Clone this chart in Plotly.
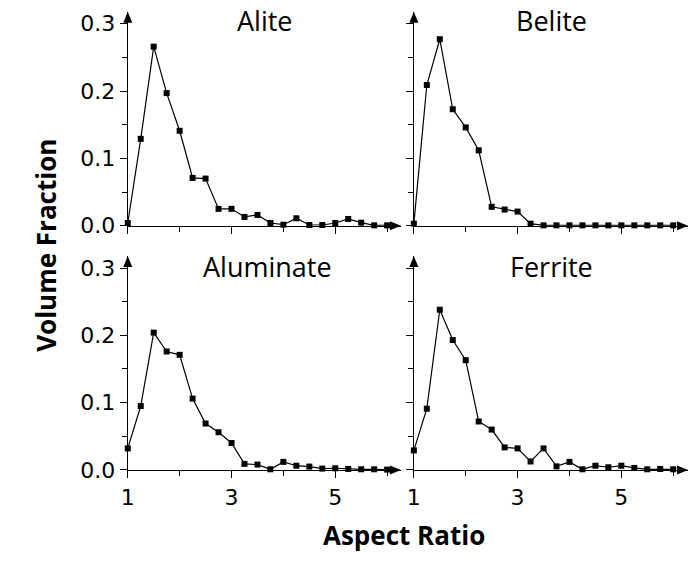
import plotly.graph_objects as go

W, H = 694, 566

aspect_ratio = [1.0, 1.25, 1.5, 1.75, 2.0, 2.25, 2.5, 2.75, 3.0, 3.25, 3.5,
                3.75, 4.0, 4.25, 4.5, 4.75, 5.0, 5.25, 5.5, 5.75, 6.0]

alite = [0.004, 0.129, 0.266, 0.197, 0.141, 0.071, 0.070, 0.025, 0.025, 0.013, 0.016,
         0.004, 0.0015, 0.011, 0.001, 0.001, 0.004, 0.010, 0.0045, 0.0005, 0.0005]
belite = [0.003, 0.209, 0.277, 0.173, 0.146, 0.112, 0.028, 0.024, 0.021, 0.003, 0.0005,
          0.0005, 0.0005, 0.0005, 0.0005, 0.0005, 0.0005, 0.0005, 0.0005, 0.0005, 0.0005]
aluminate = [0.032, 0.095, 0.204, 0.176, 0.171, 0.106, 0.069, 0.056, 0.040, 0.009, 0.008,
             0.001, 0.012, 0.0063, 0.005, 0.002, 0.0025, 0.0015, 0.001, 0.001, 0.0005]
ferrite = [0.029, 0.091, 0.238, 0.193, 0.163, 0.072, 0.060, 0.0335, 0.032, 0.0126, 0.032,
           0.0053, 0.012, 0.001, 0.0063, 0.004, 0.0063, 0.003, 0.001, 0.0015, 0.001]

titles = ["Alite", "Belite", "Aluminate", "Ferrite"]
series = [alite, belite, aluminate, ferrite]

y_ticks = [0.0, 0.1, 0.2, 0.3]
y_ticktext = ["0.0", "0.1", "0.2", "0.3"]
x_ticks = [1, 3, 5]
x_ticktext = ["1", "3", "5"]
x_minor = [2, 4, 6]

# pixel layout
px_per_x = 52.4
px_per_y = 689.0  # per 1.0
cols = [(122, 398), (411, 688)]
rows = [(231, 12), (481, 262)]  # (y of zero, y of top)

fig = go.Figure()
axis_font = dict(family="DejaVu Sans", size=22, color="black")

k = 0
for r, (y0p, y1p) in enumerate(rows):
    for c, (x0p, x1p) in enumerate(cols):
        k += 1
        xa = "x" if k == 1 else f"x{k}"
        ya = "y" if k == 1 else f"y{k}"
        xkey = "xaxis" if k == 1 else f"xaxis{k}"
        ykey = "yaxis" if k == 1 else f"yaxis{k}"
        xdom = [x0p / W, x1p / W]
        ydom = [(H - y0p) / H, (H - y1p) / H]
        xmax = 1 + (x1p - x0p) / px_per_x
        ymax = (y0p - y1p) / px_per_y
        fig.add_trace(go.Scatter(
            x=aspect_ratio, y=series[k - 1], xaxis=xa, yaxis=ya,
            mode="lines+markers",
            line=dict(color="black", width=1.2),
            marker=dict(symbol="square", size=6, color="black"),
            cliponaxis=False, showlegend=False,
        ))
        fig.layout[xkey] = dict(
            domain=xdom, anchor=ya, range=[1, xmax],
            showline=True, linecolor="black", linewidth=1.3,
            showgrid=False, zeroline=False,
            ticks="outside", ticklen=7, tickwidth=1.2, tickcolor="black",
            tickmode="array", tickvals=x_ticks, ticktext=x_ticktext,
            showticklabels=(r == 1), tickfont=axis_font,
            minor=dict(tickmode="array", tickvals=x_minor, ticks="outside",
                       ticklen=5, tickwidth=1.2, tickcolor="black", showgrid=False),
        )
        fig.layout[ykey] = dict(
            domain=ydom, anchor=xa, range=[0, ymax],
            showline=True, linecolor="black", linewidth=1.3,
            showgrid=False, zeroline=False,
            ticks="outside", ticklen=7, tickwidth=1.2, tickcolor="black",
            tickmode="array", tickvals=y_ticks, ticktext=y_ticktext,
            showticklabels=(c == 0), tickfont=axis_font,
            minor=dict(dtick=0.05, ticks="outside", ticklen=5, tickwidth=1.2,
                       tickcolor="black", showgrid=False),
        )
        # arrowheads
        fig.add_shape(type="path", xref="paper", yref="paper",
                      xsizemode="pixel", ysizemode="pixel",
                      xanchor=xdom[1], yanchor=ydom[0],
                      path="M -11,-4.5 L 0,0 L -11,4.5 Z",
                      fillcolor="black", line=dict(width=0))
        fig.add_shape(type="path", xref="paper", yref="paper",
                      xsizemode="pixel", ysizemode="pixel",
                      xanchor=xdom[0], yanchor=ydom[1],
                      path="M -4.5,-11 L 0,0 L 4.5,-11 Z",
                      fillcolor="black", line=dict(width=0))

title_pos = [(261, 21), (550, 21), (263, 273), (550, 273)]
for t, (tx, ty) in zip(titles, title_pos):
    fig.add_annotation(text=t, x=tx / W, y=(H - ty) / H, xref="paper", yref="paper",
                       showarrow=False, xanchor="center", yanchor="middle",
                       font=dict(family="Open Sans", size=27, color="black"))

fig.add_annotation(text="<b>Volume Fraction</b>", x=40 / W, y=(H - 251) / H,
                   xref="paper", yref="paper", showarrow=False, textangle=-90,
                   xanchor="center", yanchor="middle",
                   font=dict(family="Open Sans", size=26, color="black"))
fig.add_annotation(text="<b>Aspect Ratio</b>", x=401 / W, y=(H - 548) / H,
                   xref="paper", yref="paper", showarrow=False,
                   xanchor="center", yanchor="middle",
                   font=dict(family="Open Sans", size=26, color="black"))

fig.update_layout(width=W, height=H, margin=dict(l=0, r=0, t=0, b=0),
                  paper_bgcolor="white", plot_bgcolor="white")

fig.write_html("out.html")
